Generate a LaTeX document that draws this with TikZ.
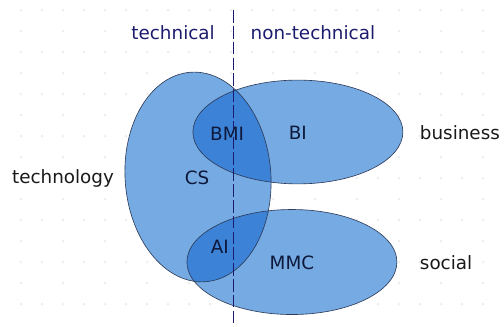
\documentclass[tikz,border=0pt]{standalone}
\usepackage{fontspec}
\setmainfont{DejaVu Sans}

\definecolor{areablue}{RGB}{118,170,226}
\definecolor{overlapblue}{RGB}{60,130,215}
\definecolor{rimgray}{RGB}{45,60,90}
\definecolor{navy}{RGB}{28,28,110}
\definecolor{labelnavy}{RGB}{14,24,58}

\begin{document}
\begin{tikzpicture}[
    area/.style={fill=areablue},
    overlap/.style={fill=overlapblue},
    rim/.style={draw=rimgray, line width=0.6pt},
    side/.style={text=navy, font=\fontsize{17.4}{20}\selectfont},
    field/.style={text=black!90, font=\fontsize{17.4}{20}\selectfont},
    inner/.style={text=labelnavy, font=\fontsize{17.4}{20}\selectfont}
  ]
  \useasboundingbox (0, 0) rectangle (16.8, 10.867);

  % faint background dots
  \foreach \row in {0,...,14} {
    \foreach \col in {1,...,23} {
      \pgfmathtruncatemacro{\keep}{mod(\row,2)==0 || mod(\col,2)==1}
      \ifnum\keep=1
        \fill[black!7] (0.7*\col, 10.53-0.7*\row) circle (0.05);
      \fi
    }
  }

  % the three areas
  \fill[area, rotate around={4:(6.6, 4.967)}] (6.6, 4.967) ellipse (2.43 and 3.5);
  \fill[area] (9.93, 6.467) ellipse (3.5 and 1.73);
  \fill[area] (9.73, 2.133) ellipse (3.5 and 1.75);

  % overlaps with technology
  \begin{scope}
    \clip[rotate around={4:(6.6, 4.967)}] (6.6, 4.967) ellipse (2.43 and 3.5);
    \fill[overlap] (9.93, 6.467) ellipse (3.5 and 1.73);
    \fill[overlap] (9.73, 2.133) ellipse (3.5 and 1.75);
  \end{scope}

  % outlines
  \draw[rim, rotate around={4:(6.6, 4.967)}] (6.6, 4.967) ellipse (2.43 and 3.5);
  \draw[rim] (9.93, 6.467) ellipse (3.5 and 1.73);
  \draw[rim] (9.73, 2.133) ellipse (3.5 and 1.75);

  % split between technical and non-technical
  \coordinate (splittop) at (7.77, 10.53);
  \coordinate (splitbot) at (7.77, 0);
  \draw[navy, line width=0.7pt, dash pattern=on 12pt off 3pt] (splittop) -- (splitbot);

  \node[side] (tech)    at (5.77, 9.767)  {technical};
  \node[side] (nontech) at (10.43, 9.767) {non-technical};

  \node[field] (technology) at (2.1, 4.93)   {technology};
  \node[field] (business)   at (15.33, 6.43) {business};
  \node[field] (social)     at (14.87, 2.1)  {social};

  \node[inner] (bmi) at (7.57, 6.4)  {BMI};
  \node[inner] (bi)  at (9.93, 6.43) {BI};
  \node[inner] (cs)  at (6.57, 4.93) {CS};
  \node[inner] (ai)  at (7.33, 2.63) {AI};
  \node[inner] (mmc) at (9.73, 2.1)  {MMC};

\end{tikzpicture}
\end{document}
